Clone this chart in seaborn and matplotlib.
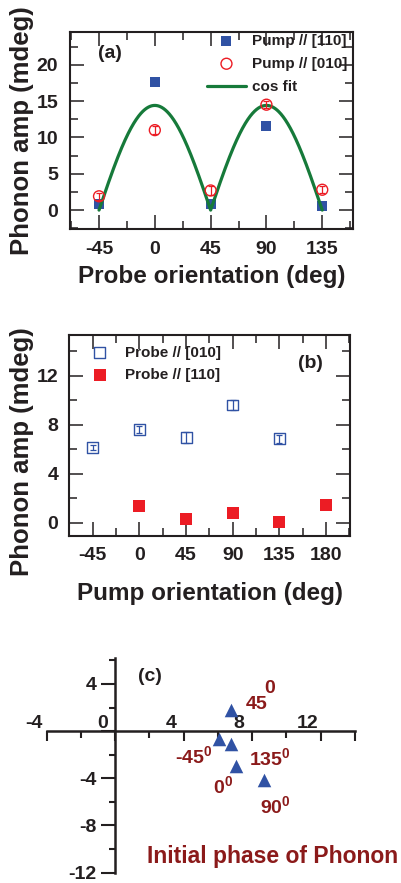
import numpy as np
import pandas as pd
import matplotlib
matplotlib.use('Agg')
import matplotlib.pyplot as plt
from matplotlib.ticker import MultipleLocator
from matplotlib.transforms import ScaledTranslation
import seaborn as sns

# (a) phonon amplitude vs probe orientation
probe_deg = [-45, 0, 45, 90, 135]
amp_pump110 = [0.8, 17.6, 0.8, 11.6, 0.5]
amp_pump010 = [1.9, 11.0, 2.7, 14.5, 2.8]
err_pump010 = [0.5, 0.6, 0.6, 0.5, 0.5]
# parametros do ajuste |cos(2x)|
fit_amp = 14.4
fit_start, fit_end = -45, 135

# (b) phonon amplitude vs pump orientation
pump_deg_010 = [-45, 0, 45, 90, 135]
amp_probe010 = [6.15, 7.6, 6.95, 9.6, 6.85]
err_probe010 = [0.2, 0.3, 0.45, 0.4, 0.3]
pump_deg_110 = [0, 45, 90, 135, 180]
amp_probe110 = [1.35, 0.3, 0.85, 0.05, 1.5]

# (c) initial phase
phase_x = [6.75, 6.07, 6.75, 7.04, 8.66]
phase_y = [1.75, -0.7, -1.13, -2.97, -4.18]

blue = '#3052a4'
red = '#ec1c24'
green = '#167a3a'
dark = '#231f20'
dred = '#8b1a1a'

sns.set_style('ticks')
plt.rcParams['font.family'] = ['Liberation Sans', 'DejaVu Sans']
plt.rcParams['font.weight'] = 'bold'
plt.rcParams['axes.labelweight'] = 'bold'
plt.rcParams['axes.unicode_minus'] = False
plt.rcParams['mathtext.fontset'] = 'custom'
plt.rcParams['mathtext.bf'] = 'Liberation Sans:bold'
plt.rcParams['mathtext.rm'] = 'Liberation Sans:bold'
plt.rcParams['mathtext.default'] = 'bf'
plt.rcParams['text.color'] = dark
plt.rcParams['axes.labelcolor'] = dark
plt.rcParams['xtick.color'] = dark
plt.rcParams['ytick.color'] = dark
plt.rcParams['axes.edgecolor'] = dark

W, H = 401, 883
fig = plt.figure(figsize=(W / 100, H / 100), dpi=100)


def box(l, r, t, b):
    return [l / W, 1 - b / H, (r - l) / W, (b - t) / H]


def frame_ticks(ax, pad):
    ax.tick_params(which='both', direction='in', top=True, right=True,
                   width=1.1, labelsize=14, pad=pad)
    ax.tick_params(which='major', length=10)
    ax.tick_params(which='minor', length=6)
    for s in ax.spines.values():
        s.set_linewidth(1.5)
    for lab in ax.get_xticklabels() + ax.get_yticklabels():
        lab.set_fontweight('bold')


# ---------- (a)
ax = fig.add_axes(box(70, 353, 32, 229))
fit_x = np.linspace(fit_start, fit_end, 721)
fit_y = fit_amp * np.abs(np.cos(np.radians(2 * fit_x)))
df_a = pd.DataFrame({'deg': probe_deg, 'p110': amp_pump110, 'p010': amp_pump010})

sns.scatterplot(data=df_a, x='deg', y='p110', marker='s', s=58, color=blue,
                edgecolor=blue, linewidth=0, ax=ax, label='Pump // [110]', zorder=2)
sns.lineplot(x=fit_x, y=fit_y, color=green, linewidth=2.3, ax=ax, label='cos fit', zorder=3)
ax.errorbar(probe_deg, amp_pump010, yerr=err_pump010, fmt='none', ecolor=red,
            elinewidth=0.9, capsize=2.2, capthick=0.9, zorder=4)
sns.scatterplot(data=df_a, x='deg', y='p010', marker='o', s=62, facecolors='none',
                edgecolor=red, linewidth=1.0, ax=ax, label='Pump // [010]', zorder=4)

ax.set_xlim(-68.4, 159.8)
ax.set_ylim(-2.6, 24.5)
ax.set_xticks([-45, 0, 45, 90, 135])
ax.xaxis.set_minor_locator(MultipleLocator(22.5))
ax.set_yticks([0, 5, 10, 15, 20])
ax.yaxis.set_minor_locator(MultipleLocator(2.5))
frame_ticks(ax, 8.5)
ax.set_xlabel('Probe orientation (deg)', fontsize=17.5)
ax.set_ylabel('Phonon amp (mdeg)', fontsize=18.5)
ax.xaxis.set_label_coords(0.5, -0.185)
ax.yaxis.set_label_coords(-0.127, 0.5)

h, l = ax.get_legend_handles_labels()
order = [l.index('Pump // [110]'), l.index('Pump // [010]'), l.index('cos fit')]
leg = ax.legend([h[i] for i in order], [l[i] for i in order], loc='upper right',
                bbox_to_anchor=(0.979, 0.992), frameon=False, fontsize=11,
                handlelength=2.6, handletextpad=0.35, labelspacing=0.6,
                borderpad=0, borderaxespad=0)
for t in leg.get_texts():
    t.set_fontweight('bold')
ax.text(110 / W, 1 - 53 / H, '(a)', transform=fig.transFigure, fontsize=14,
        fontweight='bold', ha='center', va='center')

# ---------- (b)
ax = fig.add_axes(box(69.3, 350, 335, 536))
df_b1 = pd.DataFrame({'deg': pump_deg_010, 'amp': amp_probe010})
df_b2 = pd.DataFrame({'deg': pump_deg_110, 'amp': amp_probe110})
ax.errorbar(pump_deg_010, amp_probe010, yerr=err_probe010, fmt='none', ecolor=blue,
            elinewidth=0.9, capsize=2.5, capthick=0.9, zorder=3)
sns.scatterplot(data=df_b1, x='deg', y='amp', marker='s', s=62, facecolors='none',
                edgecolor=blue, linewidth=1.0, ax=ax, label='Probe // [010]', zorder=3)
sns.scatterplot(data=df_b2, x='deg', y='amp', marker='s', s=68, color=red,
                edgecolor=red, linewidth=0, ax=ax, label='Probe // [110]', zorder=3)
ax.set_xlim(-67.6, 203)
ax.set_ylim(-1.06, 15.3)
ax.set_xticks([-45, 0, 45, 90, 135, 180])
ax.xaxis.set_minor_locator(MultipleLocator(22.5))
ax.set_yticks([0, 4, 8, 12])
ax.yaxis.set_minor_locator(MultipleLocator(2))
frame_ticks(ax, 8)
ax.set_xlabel('Pump orientation (deg)', fontsize=17.5)
ax.set_ylabel('Phonon amp (mdeg)', fontsize=18.5)
ax.xaxis.set_label_coords(0.5, -0.228)
ax.yaxis.set_label_coords(-0.125, 0.42)
leg = ax.legend(loc='upper left', bbox_to_anchor=(0.038, 0.947), frameon=False,
                fontsize=11, handlelength=2.6, handletextpad=0.35, labelspacing=0.55,
                borderpad=0, borderaxespad=0)
for t in leg.get_texts():
    t.set_fontweight('bold')
ax.text(310 / W, 1 - 363 / H, '(b)', transform=fig.transFigure, fontsize=14,
        fontweight='bold', ha='center', va='center')

# ---------- (c)
ax = fig.add_axes(box(46.7, 355, 658, 872.5))
df_c = pd.DataFrame({'x': phase_x, 'y': phase_y})
sns.scatterplot(data=df_c, x='x', y='y', marker='^', s=95, color=blue,
                edgecolor=blue, linewidth=0, ax=ax, zorder=3)
ax.set_xlim(-4, 14)
ax.set_ylim(-12, 6.2)
ax.spines['left'].set_position(('data', 0))
ax.spines['bottom'].set_position(('data', 0))
ax.spines['top'].set_visible(False)
ax.spines['right'].set_visible(False)
for s in ('left', 'bottom'):
    ax.spines[s].set_linewidth(1.8)
ax.set_xticks([-4, 0, 4, 8, 12, 14], labels=['-4', '0', '4', '8', '12', ''])
ax.set_xticks([-2, 2, 6, 10], minor=True)
ax.set_yticks([-12, -8, -4, 0, 4], labels=['-12', '-8', '-4', '', '4'])
ax.set_yticks([-10, -6, -2, 2, 6], minor=True)
ax.tick_params(which='both', direction='out', width=1.5, labelsize=14)
ax.tick_params(axis='x', which='major', length=7, pad=0)
ax.tick_params(axis='x', which='minor', length=5)
ax.tick_params(axis='y', which='major', length=10, pad=3.5)
ax.tick_params(axis='y', which='minor', length=4)
shift = ScaledTranslation(-0.13, 0.26, fig.dpi_scale_trans)
for lab in ax.get_xticklabels():
    lab.set_transform(lab.get_transform() + shift)
    lab.set_fontweight('bold')
for lab in ax.get_yticklabels():
    lab.set_fontweight('bold')
ax.set_xlabel('')
ax.set_ylabel('')

ax.text(2.04, 4.66, '(c)', fontsize=14, fontweight='bold', ha='center', va='center')
phase_labels = [
    ('45', 8.27, 2.26),
    ('0', 9.01, 3.58),
    (r'-45$^{0}$', 4.6, -2.12),
    (r'135$^{0}$', 9.05, -2.26),
    (r'0$^{0}$', 6.32, -4.66),
    (r'90$^{0}$', 9.34, -6.36),
]
for txt, x, y in phase_labels:
    ax.text(x, y, txt, color=dred, fontsize=14, fontweight='bold',
            ha='center', va='center')
ax.text(1.85, -11.16, 'Initial phase of Phonon', color=dred, fontsize=16.5,
        fontweight='bold', ha='left', va='baseline', clip_on=False)

fig.savefig('out.png', dpi=100)
